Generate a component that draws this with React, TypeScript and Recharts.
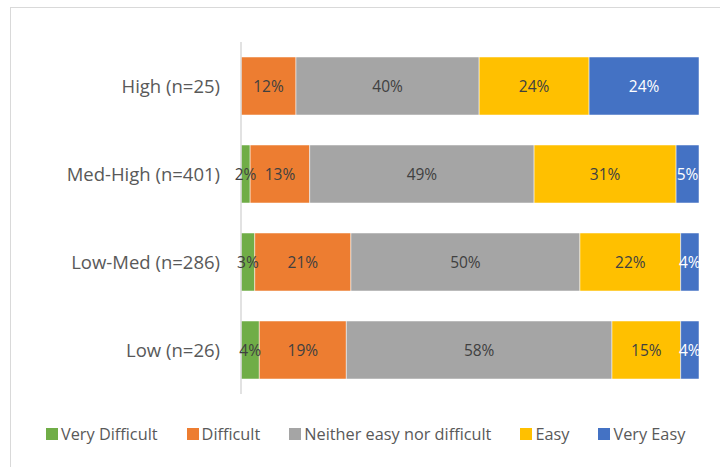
import React from "react";
import { BarChart, Bar, XAxis, YAxis, Legend, LabelList } from "recharts";

const categories = ["High (n=25)", "Med-High (n=401)", "Low-Med (n=286)", "Low (n=26)"];
const veryDifficult = [0, 2, 3, 4];
const difficult = [12, 13, 21, 19];
const neither = [40, 49, 50, 58];
const easy = [24, 31, 22, 15];
const veryEasy = [24, 5, 4, 4];

const seriesNames = ["Very Difficult", "Difficult", "Neither easy nor difficult", "Easy", "Very Easy"];
const seriesKeys = ["vd", "d", "n", "e", "ve"];
const seriesColors = ["#70AD47", "#ED7D31", "#A5A5A5", "#FFC000", "#4472C4"];
const labelColors = ["#404040", "#404040", "#404040", "#404040", "#FFFFFF"];

const data = categories.map((c, i) => ({
  cat: c,
  vd: veryDifficult[i],
  d: difficult[i],
  n: neither[i],
  e: easy[i],
  ve: veryEasy[i],
}));

const FONT = "'Open Sans', sans-serif";

const renderLegend = () => (
  <div
    style={{
      display: "flex",
      justifyContent: "flex-start",
      paddingLeft: 46,
      fontFamily: FONT,
      fontSize: 16.3,
      color: "#595959",
      gap: 29,
      lineHeight: "22px",
    }}
  >
    {seriesNames.map((name, i) => (
      <div key={name} style={{ display: "flex", alignItems: "center" }}>
        <span style={{ width: 12, height: 12, background: seriesColors[i], marginRight: 3, display: "inline-block" }} />
        <span>{name}</span>
      </div>
    ))}
  </div>
);

const fmt = (v: any) => (v && v > 0 ? `${v}%` : "");

export default function App() {
  return (
    <div style={{ position: "absolute", left: 0, top: 0, width: 720, height: 467, overflow: "hidden", background: "#fff" }}>
      <div
        style={{
          position: "absolute",
          left: 10,
          top: 7,
          width: 760,
          height: 500,
          border: "1.5px solid #d9d9d9",
          boxSizing: "border-box",
        }}
      />
      <div style={{ position: "absolute", left: 0, top: 0 }}>
        <BarChart
          width={720}
          height={467}
          data={data}
          layout="vertical"
          margin={{ top: 42, right: 21, bottom: 51, left: 0 }}
          barSize={58}
        >
          <XAxis type="number" domain={[0, 100]} hide />
          <YAxis
            type="category"
            dataKey="cat"
            width={241}
            tickLine={false}
            tickSize={6}
            tickMargin={15}
            axisLine={{ stroke: "#d9d9d9", strokeWidth: 1.5 }}
            tick={{ fill: "#595959", fontSize: 18.5, fontFamily: FONT }}
          />
          <Legend content={renderLegend} wrapperStyle={{ left: 0, top: 423, width: 720 }} />
          {seriesKeys.map((k, i) => (
            <Bar
              key={k}
              dataKey={k}
              name={seriesNames[i]}
              stackId="a"
              fill={seriesColors[i]}
              stroke="#ffffff"
              strokeWidth={0.5}
              isAnimationActive={false}
            >
              <LabelList
                dataKey={k}
                position="center"
                formatter={fmt}
                style={{ fill: labelColors[i], fontSize: 15.5, fontFamily: FONT }}
              />
            </Bar>
          ))}
        </BarChart>
      </div>
    </div>
  );
}
